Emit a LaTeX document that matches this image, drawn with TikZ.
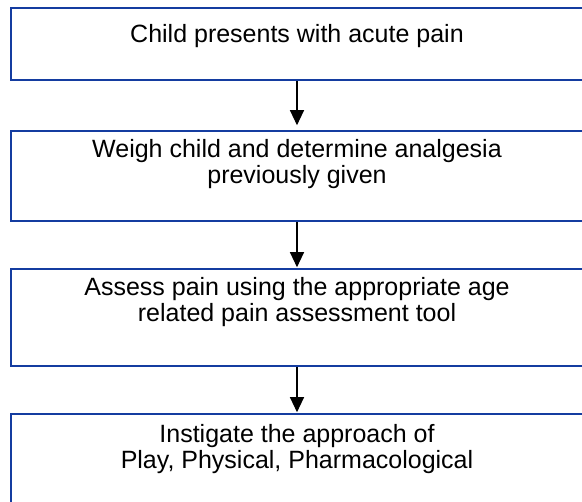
\documentclass[tikz,border=0pt]{standalone}
\usepackage{fontspec}
\setmainfont{Liberation Sans}
\usetikzlibrary{arrows.meta,positioning}
\definecolor{stageblue}{RGB}{20,60,160}

\tikzset{
  stage/.style={draw=stageblue,line width=1.6pt,minimum width=572pt,inner sep=0pt},
  stagetext/.style={align=center,inner sep=0pt,font=\fontsize{25}{26}\selectfont},
  flow/.style={line width=1.2pt,-{Triangle[width=14pt,length=15pt]}}
}

\providecommand{\Stage}[5]{% name, centre y, height, text offset, text
\node[stage,minimum height=#3] (#1) at (297pt,#2) {};
\node[stagetext,below=#4 of #1.north] (#1text) {#5};
}

\begin{document}
\begin{tikzpicture}
\useasboundingbox (0,0) rectangle (582pt,-502pt);
\clip (0,0) rectangle (582pt,-502pt);
\Stage{present}{-44pt}{72pt}{17pt}{Child presents with acute pain}
\Stage{weigh}{-176pt}{90pt}{9pt}{Weigh child and determine analgesia\\previously given}
\Stage{assess}{-317.5pt}{97pt}{9pt}{Assess pain using the appropriate age\\related pain assessment tool}
\Stage{instigate}{-464pt}{100pt}{11pt}{Instigate the approach of\\Play, Physical, Pharmacological}
\draw[flow,shorten >=5pt] (present) -- (weigh);
\draw[flow,shorten >=1pt] (weigh) -- (assess);
\draw[flow,shorten >=1pt] (assess) -- (instigate);
\end{tikzpicture}
\end{document}
